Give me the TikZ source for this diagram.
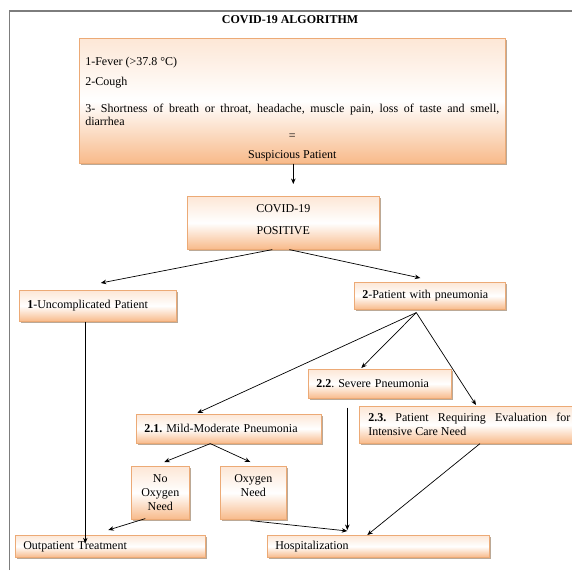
\documentclass[tikz,border=0pt]{standalone}
\usepackage{fontspec}
\setmainfont{Liberation Serif}
\usetikzlibrary{shadows,arrows.meta}
\definecolor{peach}{RGB}{248,186,138}
\definecolor{peachline}{RGB}{236,170,118}
\definecolor{shadowc}{RGB}{180,160,140}
\definecolor{framegray}{RGB}{125,125,125}
\frenchspacing
\tikzset{
  box/.style={draw=peachline, line width=0.6pt,
    top color=peach!35!white, bottom color=peach, middle color=white,
    drop shadow={shadow xshift=1.8pt, shadow yshift=-1.8pt, fill=shadowc, opacity=0.9},
    anchor=north west, inner xsep=8pt, inner ysep=0pt,
    font=\fontsize{12}{14}\selectfont\frenchspacing, align=left},
  arr/.style={-{Stealth[length=5.5pt,width=4.5pt]}, line width=0.7pt},
  ln/.style={line width=0.7pt}
}
\begin{document}
\begin{tikzpicture}[x=1pt,y=1pt]
\clip (0,0) rectangle (572,-570);
\useasboundingbox (0,0) rectangle (572,-570);
\fill[white] (0,0) rectangle (572,-570);
\draw[framegray, line width=1.3pt] (9.5,-570) -- (9.5,-11) -- (572,-11);

\node[font=\bfseries\fontsize{12}{14}\selectfont] (title) at (290,-20) {COVID-19 ALGORITHM};

\node[box, inner xsep=6pt, minimum height=125pt, text width=414pt, align=justify,
      font=\fontsize{12}{13}\selectfont\frenchspacing] (sym) at (79,-38)
{\setlength\parindent{0pt}\setlength\parskip{0pt}%
\rule{0pt}{24pt}1-Fever (>37.8 °C)\par\vspace{7pt}
2-Cough\par\vspace{14pt}
3- Shortness of breath or throat, headache, muscle pain, loss of taste and smell,\linebreak diarrhea\par\vspace{1pt}
{\centering =\par\vspace{6pt}Suspicious Patient\par}};

\node[box, minimum height=53pt, text width=176pt, align=center] (pos) at (187,-196) {COVID-19\\[8pt]POSITIVE\\[-8pt]\mbox{}};

\node[box, minimum height=31pt, text width=141pt] (unc) at (19,-290) {\textbf{1}-Uncomplicated Patient};
\node[box, minimum height=27pt, text width=135pt] (pneu) at (354,-282) {\textbf{2}-Patient with pneumonia};
\node[box, minimum height=29pt, text width=127pt] (sev) at (308,-369) {\textbf{2.2}. Severe Pneumonia};
\node[box, minimum height=29pt, text width=169pt] (mild) at (136,-414) {\textbf{2.1.} Mild-Moderate Pneumonia};
\node[box, inner xsep=9pt, minimum height=37pt, text width=202pt, align=justify] (icu) at (359,-406)
{\textbf{2.3.} Patient Requiring Evaluation for\linebreak Intensive Care Need};
\node[box, inner xsep=2pt, minimum height=53pt, text width=54pt, align=center] (noox) at (131,-466) {No\\Oxygen\\Need};
\node[box, inner xsep=2pt, minimum height=53pt, text width=62pt, align=center] (oxy) at (220,-466) {Oxygen\\Need\\\mbox{}};
\node[box, minimum height=22pt, text width=174pt] (out) at (15,-535) {Outpatient Treatment};
\node[box, minimum height=22pt, text width=206pt] (hosp) at (267,-535) {Hospitalization};

% connectors
\draw[arr, shorten >=12pt] ([xshift=1pt]sym.south) -- ([xshift=1pt]sym.south |- pos.north);
\draw[arr] ([xshift=-11pt]pos.south) -- ([xshift=3pt,yshift=7pt]unc.north);
\draw[arr] ([xshift=6pt]pos.south) -- ([xshift=-9.5pt,yshift=4pt]pneu.north);

\coordinate (pf) at ([xshift=-13.5pt,yshift=-3pt]pneu.south);
\draw[arr] (pf) -- ([xshift=-31.5pt,yshift=1pt]mild.north);
\draw[arr] (pf) -- ([xshift=-18.5pt,yshift=1pt]sev.north);
\draw[arr] (pf) -- ([xshift=117pt,yshift=1pt]icu.north west);

\draw[arr, shorten >=3pt] ([xshift=-12.5pt]unc.south) -- ([xshift=-12.5pt]unc.south |- out.center);
\draw[arr] ([xshift=-32.5pt,yshift=-9pt]sev.south) -- ([xshift=-31pt,yshift=5pt]hosp.north);

\coordinate (mf) at ([xshift=-18.5pt]mild.south);
\draw[arr] (mf) -- ([xshift=4pt,yshift=4pt]noox.north);
\draw[arr] (mf) -- ([xshift=-3pt,yshift=4pt]oxy.north);

\draw[arr] ([xshift=-15pt,yshift=1pt]noox.south) -- ([xshift=-2pt,yshift=5pt]out.north);
\draw[arr] ([xshift=-3pt,yshift=-1pt]oxy.south) -- ([xshift=-31pt,yshift=4pt]hosp.north);
\draw[arr] ([xshift=121pt]icu.south west) -- ([xshift=-11pt]hosp.north);
\end{tikzpicture}
\end{document}
